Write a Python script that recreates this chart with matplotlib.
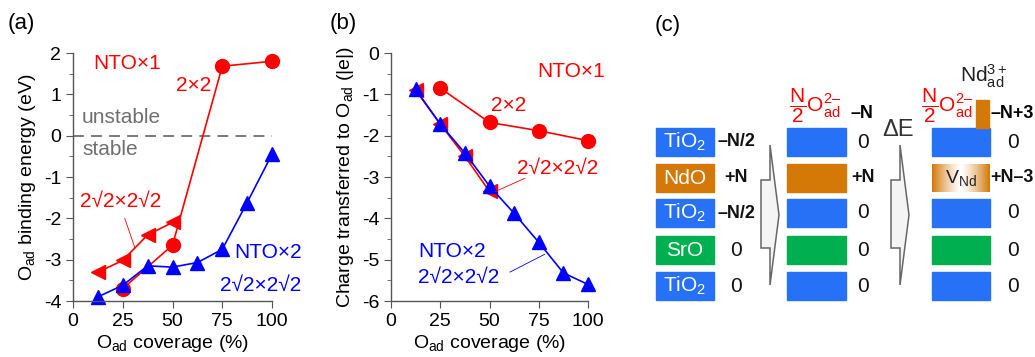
import numpy as np
import matplotlib
matplotlib.use("Agg")
import matplotlib.pyplot as plt
from matplotlib.patches import Rectangle, Polygon
from matplotlib.ticker import MultipleLocator

plt.rcParams['font.family'] = ['Liberation Sans', 'DejaVu Sans']
plt.rcParams['mathtext.fontset'] = 'custom'
plt.rcParams['mathtext.rm'] = 'Liberation Sans'
plt.rcParams['mathtext.it'] = 'Liberation Sans'
plt.rcParams['mathtext.bf'] = 'Liberation Sans:bold'
plt.rcParams['axes.unicode_minus'] = False

# --- datos panel (a): energia de enlace ---
cov_2x2 = [25, 50, 75, 100]
e_2x2 = [-3.7, -2.65, 1.68, 1.8]
cov_r8 = [12.5, 25, 37.5, 50]
e_r8_nto1 = [-3.3, -3.02, -2.4, -2.1]
cov_nto2 = [12.5, 25, 37.5, 50, 62.5, 75, 87.5, 100]
e_nto2 = [-3.9, -3.62, -3.15, -3.18, -3.07, -2.75, -1.62, -0.45]

# --- datos panel (b): carga transferida ---
q_2x2 = [-0.85, -1.68, -1.88, -2.12]
q_r8_nto1 = [-0.9, -1.72, -2.5, -3.35]
q_nto2 = [-0.88, -1.72, -2.42, -3.22, -3.88, -4.58, -5.32, -5.6]

# --- panel (c): capas ---
layers = ['TiO$_2$', 'NdO', 'TiO$_2$', 'SrO', 'TiO$_2$']
layer_colors = ['#2671F5', '#D47808', '#2671F5', '#00B050', '#2671F5']
charges_1 = ['–N/2', '+N', '–N/2', '0', '0']
charges_2 = ['0', '+N', '0', '0', '0']
charges_3 = ['0', '+N–3', '0', '0', '0']

RED = '#FF0000'
BLUE = '#0000FF'
GRAY = '#707070'

fig = plt.figure(figsize=(10.35, 3.57), dpi=100)


def style_axes(ax, ylim, ystep):
    ax.set_xlim(0, 100)
    ax.set_ylim(*ylim)
    ax.spines['top'].set_visible(False)
    ax.spines['right'].set_visible(False)
    for s in ['left', 'bottom']:
        ax.spines[s].set_color('#555555')
        ax.spines[s].set_linewidth(1.0)
    ax.xaxis.set_major_locator(MultipleLocator(25))
    ax.yaxis.set_major_locator(MultipleLocator(ystep))
    ax.yaxis.set_minor_locator(MultipleLocator(ystep / 2))
    ax.tick_params(which='major', length=5, color='#555555', labelsize=14, direction='out')
    ax.tick_params(which='minor', length=3, color='#555555', direction='out')
    ax.set_xlabel('O$_{ad}$ coverage (%)', fontsize=14, labelpad=2)


mk = dict(markersize=10, linewidth=1.2, clip_on=False)

# (a)
ax1 = fig.add_axes([73 / 1035, 56 / 357, 199 / 1035, 248 / 357])
style_axes(ax1, (-4, 2), 1)
ax1.plot([0, 100], [0, 0], ls=(0, (6, 4)), color=GRAY, lw=1.3)
ax1.plot(cov_r8, e_r8_nto1, marker='<', color=RED, **mk)
ax1.plot(cov_2x2, e_2x2, marker='o', color=RED, **mk)
ax1.plot(cov_nto2, e_nto2, marker='^', color=BLUE, **mk)
ax1.set_ylabel('O$_{ad}$ binding energy (eV)', fontsize=14, labelpad=4)
ax1.text(10, 1.75, 'NTO×1', color=RED, fontsize=15, va='center')
ax1.text(52, 1.22, '2×2', color=RED, fontsize=15, va='center')
ax1.text(4.5, 0.43, 'unstable', color=GRAY, fontsize=15, va='center')
ax1.text(4.5, -0.33, 'stable', color=GRAY, fontsize=15, va='center')
ax1.text(3.5, -1.6, '2√2×2√2', color=RED, fontsize=15, va='center')
ax1.plot([26, 31], [-2.0, -2.7], color=RED, lw=0.6)
ax1.text(81, -2.82, 'NTO×2', color=BLUE, fontsize=15, va='center')
ax1.text(74, -3.62, '2√2×2√2', color=BLUE, fontsize=15, va='center')

# (b)
ax2 = fig.add_axes([391 / 1035, 56 / 357, 197 / 1035, 248 / 357])
style_axes(ax2, (-6, 0), 1)
ax2.plot(cov_2x2, q_2x2, marker='o', color=RED, **mk)
ax2.plot(cov_r8, q_r8_nto1, marker='<', color=RED, **mk)
ax2.plot(cov_nto2, q_nto2, marker='^', color=BLUE, **mk)
ax2.set_ylabel('Charge transferred to O$_{ad}$ (|e|)', fontsize=14, labelpad=4)
ax2.text(74, -0.45, 'NTO×1', color=RED, fontsize=15, va='center')
ax2.text(51, -1.26, '2×2', color=RED, fontsize=15, va='center')
ax2.text(64, -2.8, '2√2×2√2', color=RED, fontsize=15, va='center')
ax2.plot([68, 53], [-3.03, -3.35], color=RED, lw=0.6)
ax2.text(13.7, -4.8, 'NTO×2', color=BLUE, fontsize=15, va='center')
ax2.text(13.7, -5.42, '2√2×2√2', color=BLUE, fontsize=15, va='center')
ax2.plot([60.4, 78], [-5.3, -4.87], color=BLUE, lw=0.6)

fig.text(8 / 1035, 1 - 23 / 357, '(a)', fontsize=16, va='center')
fig.text(330 / 1035, 1 - 23 / 357, '(b)', fontsize=16, va='center')

# (c) esquema, coordenadas en pixeles
ax3 = fig.add_axes([630 / 1035, 0, 405 / 1035, 1])
ax3.axis('off')
ax3.text(655, 25, '(c)', fontsize=16, va='center')

row_y = [128, 164, 199, 236, 272]
row_h = 28
cols = [(656, 58), (787, 59), (932, 58)]
lab_x = [736, 863, 1013]

for i, (lay, col) in enumerate(zip(layers, layer_colors)):
    y = row_y[i]
    ax3.add_patch(Rectangle((cols[0][0], y), cols[0][1], row_h, color=col))
    ax3.text(cols[0][0] + cols[0][1] / 2, y + row_h / 2, lay, color='white',
             fontsize=15, ha='center', va='center')
    ax3.add_patch(Rectangle((cols[1][0], y), cols[1][1], row_h, color=col))
    if i == 1:
        grad = np.abs(np.linspace(-1, 1, 100)) ** 1.3
        c0 = np.array(matplotlib.colors.to_rgb(col))
        img = 1 - grad[None, :, None] * (1 - c0[None, None, :])
        ax3.imshow(img, extent=(cols[2][0], cols[2][0] + cols[2][1], y + row_h, y),
                   aspect='auto', zorder=1)
        ax3.text(cols[2][0] + cols[2][1] / 2, y + row_h / 2, 'V$_{Nd}$', color='#222222',
                 fontsize=14, ha='center', va='center', zorder=2)
    else:
        ax3.add_patch(Rectangle((cols[2][0], y), cols[2][1], row_h, color=col))
    for k, labs in enumerate([charges_1, charges_2, charges_3]):
        t = labs[i]
        if t == '0':
            ax3.text(lab_x[k], y + row_h / 2, t, fontsize=15, ha='center', va='center',
                     color='#111111')
        elif k == 2:
            ax3.text(1034, y + row_h / 2, t, fontsize=13, ha='right', va='center',
                     fontweight='bold', color='#111111')
        else:
            ax3.text(lab_x[k], y + row_h / 2, t, fontsize=13, ha='center', va='center',
                     fontweight='bold', color='#111111')

ax3.set_xlim(630, 1035)
ax3.set_ylim(357, 0)

# adsorbato
ax3.add_patch(Rectangle((976, 100), 13, 28, color='#D47808'))
ax3.text(862, 113, '–N', fontsize=13, ha='center', va='center', fontweight='bold')
ax3.text(1034, 113, '–N+3', fontsize=13, ha='right', va='center', fontweight='bold')
ax3.text(815, 106, r'$\dfrac{N}{2}$O$_{ad}^{2–}$', color=RED, fontsize=15, ha='center', va='center')
ax3.text(947, 106, r'$\dfrac{N}{2}$O$_{ad}^{2–}$', color=RED, fontsize=15, ha='center', va='center')
ax3.text(984, 76, 'Nd$_{ad}^{3+}$', fontsize=15, ha='center', va='center', color='#222222')
ax3.text(898, 130, 'ΔE', fontsize=17, ha='center', va='center', color='#333333')

# flechas
for x0 in [761, 891]:
    xs = [x0, x0 + 9, x0 + 9, x0 + 18, x0 + 9, x0 + 9, x0]
    ys = [180, 180, 145, 215, 285, 248, 248]
    ax3.add_patch(Polygon(list(zip(xs, ys)), closed=True, facecolor='#F4F4F4',
                          edgecolor='#666666', lw=1.1))

fig.savefig('out.png', dpi=100)
